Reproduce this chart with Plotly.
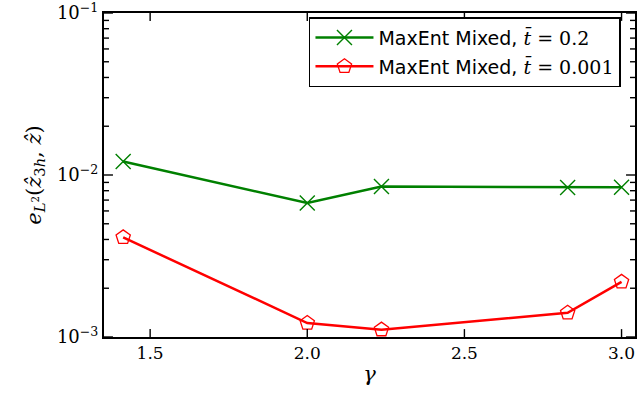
import numpy as np
import plotly.graph_objects as go

# mesh parameter gamma and L2 errors for the two smoothing lengths
gamma = [np.sqrt(2.0), 2.0, np.sqrt(5.0), 2.0 * np.sqrt(2.0), 3.0]
err_t02 = [0.0121, 0.00671, 0.00848, 0.00836, 0.00840]
err_t0001 = [0.00412, 0.00122, 0.00111, 0.00141, 0.00219]

x_ticks = [1.5, 2.0, 2.5, 3.0]
x_tick_text = ["1.5", "2.0", "2.5", "3.0"]
y_ticks = [1e-3, 1e-2, 1e-1]
y_tick_text = ["10<sup>\u22123</sup>", "10<sup>\u22122</sup>", "10<sup>\u22121</sup>"]
y_minor = [m * 10.0 ** e for e in (-3, -2) for m in range(2, 10)]

GREEN = "#008000"
RED = "#ff0000"
SERIF = "DejaVu Serif"

W, H = 637, 397
M_L, M_R, M_T, M_B = 104, 0, 8, 60
PLOT_W = W - M_L - M_R
PLOT_H = H - M_T - M_B


def label(tval):
    return ("MaxEnt Mixed, <span style='font-family:DejaVu Serif'>"
            "<i>t\u0304</i> = " + tval + "</span>")


fig = go.Figure()
fig.add_trace(go.Scatter(
    x=gamma, y=err_t02, mode="lines+markers", name=label("0.2"),
    legendgroup="a",
    line=dict(color=GREEN, width=2.5),
    marker=dict(symbol="x-thin-open", size=15, color=GREEN,
                line=dict(color=GREEN, width=1.4)),
))
fig.add_trace(go.Scatter(
    x=gamma, y=err_t0001, mode="lines+markers", name=label("0.001"),
    legendgroup="b",
    line=dict(color=RED, width=2.5),
    marker=dict(symbol="pentagon-open", size=15, color=RED,
                line=dict(color=RED, width=1.3)),
))

# inward tick marks on all four sides, placed through the axis scales
tick_style = dict(color="black", width=1.4)
shapes = []
xlen = 8 / PLOT_H
for xv in x_ticks:
    shapes.append(dict(type="line", xref="x", yref="y domain", x0=xv, x1=xv,
                       y0=0, y1=xlen, line=tick_style, layer="above"))
    shapes.append(dict(type="line", xref="x", yref="y domain", x0=xv, x1=xv,
                       y0=1 - xlen, y1=1, line=tick_style, layer="above"))
for vals, length in ((y_ticks, 9), (y_minor, 5)):
    ylen = length / PLOT_W
    for yv in vals:
        shapes.append(dict(type="line", xref="x domain", yref="y", x0=0, x1=ylen,
                           y0=yv, y1=yv, line=tick_style, layer="above"))
        shapes.append(dict(type="line", xref="x domain", yref="y", x0=1 - ylen, x1=1,
                           y0=yv, y1=yv, line=tick_style, layer="above"))

fig.update_layout(
    xaxis=dict(
        range=[1.3532, 3.0428], tickvals=x_ticks, ticktext=x_tick_text,
        ticks="", showline=True, linecolor="black", linewidth=2, mirror=True,
        showgrid=False, zeroline=False,
        tickfont=dict(family=SERIF, size=17, color="black"),
        title=dict(text="<i>\u03b3</i>",
                   font=dict(family=SERIF, size=21, color="black"), standoff=4),
    ),
    yaxis=dict(
        type="log", range=[-3, -1], tickvals=y_ticks, ticktext=y_tick_text,
        ticks="", showline=True, linecolor="black", linewidth=2, mirror=True,
        showgrid=False, zeroline=False, ticklabeloverflow="allow",
        tickfont=dict(family=SERIF, size=18, color="black"),
        title=dict(text="<i>e</i><sub><i>L</i><sup>2</sup></sub>"
                        "(<i>\u1e91</i><sub>3<i>h</i></sub>, <i>\u1e91</i>)",
                   font=dict(family=SERIF, size=21, color="black"), standoff=10),
    ),
    shapes=shapes,
    width=W, height=H,
    margin=dict(l=M_L, r=M_R, t=M_T, b=M_B),
    paper_bgcolor="white", plot_bgcolor="white",
    font=dict(family="DejaVu Sans", size=19, color="black"),
    legend=dict(
        x=0.386, y=0.987, xanchor="left", yanchor="top",
        bgcolor="white", bordercolor="black", borderwidth=1.5,
        traceorder="grouped", tracegroupgap=1, itemwidth=58,
        font=dict(family="DejaVu Sans", size=19, color="black"),
    ),
    showlegend=True,
)

fig.write_html("out.html")
